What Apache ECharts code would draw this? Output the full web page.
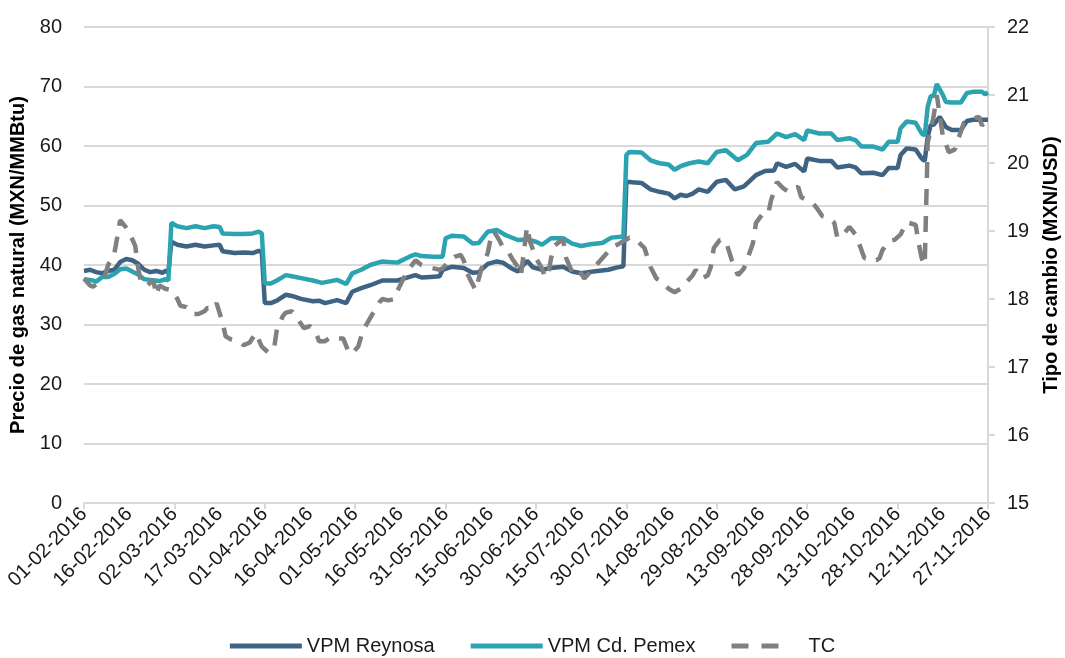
<!DOCTYPE html>
<html>
<head>
<meta charset="utf-8">
<script src="https://cdn.jsdelivr.net/npm/echarts@6/dist/echarts.min.js"></script>
<style>
html,body{margin:0;padding:0;background:#fff;}
#chart{width:1065px;height:658px;}
</style>
</head>
<body>
<div id="chart"></div>
<script>
// Daily categories from 01-02-2016 to 27-11-2016
const startDate = Date.UTC(2016, 1, 1);
const dayCount = 301;
const categories = [];
for (let i = 0; i < dayCount; i++) {
  const d = new Date(startDate + i * 86400000);
  const dd = String(d.getUTCDate()).padStart(2, '0');
  const mm = String(d.getUTCMonth() + 1).padStart(2, '0');
  categories.push(dd + '-' + mm + '-' + d.getUTCFullYear());
}

const leftTicks = { min: 0, max: 80, interval: 10 };
const rightTicks = { min: 15, max: 22, interval: 1 };

// [day offset from 01-02-2016, value]
const reynosa = [
  [0,39.0],[2,39.2],[4,38.8],[6,38.6],[8,39.0],[10,39.2],[12,40.5],[14,41.0],[16,40.8],[18,40.2],
  [20,39.2],[22,38.8],[24,39.0],[26,38.7],[27,39.0],[28,38.8],[29,43.9],[31,43.4],[34,43.1],[37,43.4],
  [40,43.1],[43,43.3],[45,43.4],[46,42.3],[50,42.0],[53,42.1],[56,42.0],[58,42.4],[59,42.2],[60,33.6],
  [62,33.6],[64,34.0],[67,35.0],[69,34.8],[72,34.3],[76,33.9],[78,34.0],[80,33.6],[84,34.1],[87,33.6],
  [89,35.5],[92,36.1],[95,36.6],[99,37.4],[104,37.4],[108,38.0],[110,38.3],[112,37.9],[115,38.0],[118,38.1],
  [119,39.2],[122,39.7],[126,39.5],[129,38.7],[131,38.8],[134,40.2],[137,40.6],[139,40.4],[142,39.4],[144,38.9],
  [147,40.7],[149,39.6],[152,39.2],[155,39.5],[159,39.7],[162,38.9],[165,38.6],[169,38.9],[174,39.2],[177,39.6],
  [179,39.8],[180,54.0],[182,53.9],[185,53.8],[188,52.7],[191,52.3],[194,52.0],[196,51.2],[198,51.8],[200,51.6],
  [202,52.0],[204,52.7],[207,52.3],[210,54.0],[213,54.3],[216,52.7],[219,53.2],[223,55.1],[226,55.8],[229,55.9],
  [230,57.1],[233,56.5],[236,57.0],[239,55.7],[240,57.9],[244,57.5],[248,57.5],[250,56.4],[254,56.7],[256,56.4],
  [258,55.4],[262,55.5],[265,55.1],[267,56.3],[270,56.3],[271,58.5],[273,59.6],[276,59.4],[278,57.9],[279,57.5],
  [280,61.6],[281,63.5],[282,63.6],[284,64.9],[286,63.2],[288,62.7],[291,62.7],[293,64.2],[295,64.4],[298,64.4],
  [300,64.4]
];

const pemex = [
  [0,37.6],[3,37.4],[4,37.2],[6,38.0],[8,38.0],[10,38.5],[12,39.3],[14,39.4],[16,38.9],[18,38.4],
  [20,37.6],[22,37.5],[25,37.3],[27,37.6],[28,37.4],[29,47.1],[31,46.5],[34,46.2],[37,46.5],[40,46.2],
  [43,46.5],[45,46.4],[46,45.3],[50,45.2],[53,45.2],[56,45.3],[58,45.6],[59,45.3],[60,36.9],[62,36.9],
  [64,37.4],[67,38.3],[69,38.1],[72,37.8],[76,37.4],[79,37.0],[84,37.5],[87,36.8],[89,38.6],[92,39.2],
  [95,40.0],[99,40.6],[104,40.4],[108,41.4],[110,41.8],[112,41.5],[116,41.4],[119,41.4],[120,44.5],[122,44.9],
  [126,44.8],[129,43.6],[131,43.7],[134,45.6],[137,45.9],[140,45.0],[144,44.2],[147,44.3],[150,43.9],[152,43.4],
  [155,44.5],[159,44.5],[162,43.6],[165,43.2],[168,43.5],[172,43.7],[175,44.6],[179,44.8],[180,58.5],[181,59.0],
  [185,58.9],[188,57.6],[191,57.1],[194,56.9],[196,56.0],[198,56.6],[201,57.1],[204,57.4],[207,57.1],[210,59.0],
  [213,59.3],[217,57.6],[220,58.5],[223,60.5],[227,60.7],[230,62.1],[233,61.5],[236,62.0],[239,61.0],[240,62.6],
  [244,62.1],[248,62.1],[250,61.0],[254,61.3],[256,61.0],[258,59.9],[262,59.9],[265,59.4],[267,60.7],[270,60.7],
  [271,63.0],[273,64.1],[276,63.9],[278,62.1],[279,61.8],[280,66.6],[281,68.4],[282,68.4],[283,70.4],[285,68.6],
  [286,67.4],[288,67.3],[291,67.3],[293,68.9],[295,69.1],[298,69.1],[299,68.7],[300,69.0]
];

const tc = [
  [0,18.30],[2,18.20],[3,18.18],[5,18.25],[7,18.35],[8,18.50],[10,18.65],[11,18.90],[12,19.16],[14,19.05],
  [15,18.98],[17,18.78],[18,18.45],[19,18.23],[21,18.20],[23,18.28],[24,18.06],[25,18.20],[27,18.15],[29,18.13],
  [31,18.00],[32,17.90],[34,17.88],[36,17.78],[38,17.78],[40,17.82],[41,17.87],[43,17.85],[44,17.94],[46,17.65],
  [47,17.45],[49,17.40],[51,17.38],[53,17.32],[55,17.36],[57,17.50],[59,17.30],[61,17.22],[63,17.25],[64,17.55],
  [66,17.75],[67,17.80],[69,17.82],[71,17.70],[73,17.57],[75,17.60],[77,17.50],[78,17.38],[80,17.38],[82,17.44],
  [84,17.42],[86,17.42],[88,17.20],[89,17.20],[91,17.30],[92,17.45],[93,17.57],[96,17.80],[98,17.95],[99,18.00],
  [101,17.98],[103,18.00],[104,18.12],[106,18.30],[108,18.45],[110,18.57],[112,18.50],[114,18.47],[116,18.45],[118,18.43],
  [119,18.45],[121,18.55],[123,18.62],[125,18.65],[126,18.57],[127,18.40],[128,18.30],[130,18.13],[131,18.30],[132,18.46],
  [134,18.68],[135,18.90],[136,19.00],[138,18.85],[139,18.76],[141,18.68],[142,18.60],[144,18.47],[145,18.35],[146,18.70],
  [147,19.06],[148,18.85],[150,18.60],[152,18.45],[153,18.32],[154,18.35],[155,18.60],[156,18.78],[158,18.85],[159,18.87],
  [160,18.60],[162,18.40],[164,18.45],[166,18.30],[167,18.35],[170,18.50],[172,18.60],[174,18.70],[175,18.76],[177,18.80],
  [179,18.85],[181,18.90],[183,18.88],[186,18.75],[188,18.47],[190,18.30],[192,18.25],[194,18.15],[196,18.10],[198,18.15],
  [200,18.25],[202,18.35],[203,18.43],[205,18.30],[207,18.35],[208,18.47],[209,18.75],[211,18.87],[213,18.85],[215,18.57],
  [217,18.35],[219,18.45],[220,18.57],[222,18.82],[223,19.12],[225,19.24],[227,19.24],[228,19.45],[230,19.72],[232,19.63],
  [234,19.57],[236,19.63],[237,19.65],[238,19.50],[242,19.40],[243,19.35],[245,19.22],[247,19.20],[249,19.12],[250,18.90],
  [252,18.95],[254,19.06],[256,18.95],[257,18.84],[259,18.60],[261,18.60],[263,18.57],[264,18.60],[265,18.72],[267,18.85],
  [269,18.87],[271,18.95],[273,19.13],[276,19.09],[277,18.82],[278,18.60],[279,18.50],[280,20.30],[281,20.50],[282,20.70],
  [283,21.00],[285,20.40],[287,20.16],[289,20.20],[290,20.34],[292,20.59],[293,20.62],[295,20.65],[297,20.68],[298,20.55],
  [300,20.65]
];

const FONT = "'Liberation Sans', Arial, sans-serif";
const solidIcon = 'path://M0,0h72v5h-72z';
const dashIcon = 'path://M0,0h17v5h-17zM30,0h17v5h-17zM71.9,0h0.1v0.1h-0.1z';

const chart = echarts.init(document.getElementById('chart'), null, { renderer: 'canvas' });
chart.setOption({
  animation: false,
  backgroundColor: '#ffffff',
  textStyle: { fontFamily: FONT },
  grid: { left: 84, right: 77, top: 27, bottom: 155, containLabel: false, outerBoundsMode: 'none' },
  legend: {
    bottom: -3,
    left: 'center',
    itemWidth: 72,
    itemHeight: 5,
    itemGap: 36,
    lineStyle: { opacity: 0 },
    textStyle: { fontSize: 20, color: '#1a1a1a', fontFamily: FONT },
    data: [
      { name: 'VPM Reynosa', icon: solidIcon },
      { name: 'VPM Cd. Pemex', icon: solidIcon },
      { name: 'TC', icon: dashIcon }
    ]
  },
  xAxis: {
    type: 'category',
    data: categories,
    boundaryGap: false,
    axisLine: { lineStyle: { color: '#d9d9d9', width: 2 } },
    axisTick: { show: true, interval: 29, length: 6, lineStyle: { color: '#d9d9d9', width: 2 } },
    axisLabel: { interval: 14, rotate: 45, fontSize: 20, color: '#1a1a1a', margin: 8, fontFamily: FONT },
    splitLine: { show: false }
  },
  yAxis: [
    {
      type: 'value',
      min: leftTicks.min, max: leftTicks.max, interval: leftTicks.interval,
      name: 'Precio de gas natural (MXN/MMBtu)',
      nameLocation: 'middle',
      nameGap: 46,
      nameTextStyle: { fontSize: 20, fontWeight: 'bold', color: '#000', fontFamily: FONT },
      axisLine: { show: false },
      axisTick: { show: false },
      axisLabel: { fontSize: 20, color: '#1a1a1a', margin: 22, fontFamily: FONT },
      splitLine: { lineStyle: { color: '#d9d9d9', width: 2 } }
    },
    {
      type: 'value',
      position: 'right',
      min: rightTicks.min, max: rightTicks.max, interval: rightTicks.interval,
      name: 'Tipo de cambio (MXN/USD)',
      nameLocation: 'middle',
      nameGap: 53,
      nameTextStyle: { fontSize: 20, fontWeight: 'bold', color: '#000', fontFamily: FONT },
      axisLine: { show: true, lineStyle: { color: '#d9d9d9', width: 2 } },
      axisTick: { show: true, length: 7, lineStyle: { color: '#d9d9d9', width: 2 } },
      axisLabel: { fontSize: 20, color: '#1a1a1a', margin: 19, fontFamily: FONT },
      splitLine: { show: false }
    }
  ],
  series: [
    {
      name: 'VPM Reynosa', type: 'line', data: reynosa, yAxisIndex: 0,
      symbol: 'none', showSymbol: false,
      lineStyle: { color: '#3e6383', width: 4.5 }, itemStyle: { color: '#3e6383' }
    },
    {
      name: 'VPM Cd. Pemex', type: 'line', data: pemex, yAxisIndex: 0,
      symbol: 'none', showSymbol: false,
      lineStyle: { color: '#2ca3b0', width: 4.5 }, itemStyle: { color: '#2ca3b0' }
    },
    {
      name: 'TC', type: 'line', data: tc, yAxisIndex: 1,
      symbol: 'none', showSymbol: false,
      lineStyle: { color: '#808080', width: 4.5, type: [16, 11] }, itemStyle: { color: '#808080' }
    }
  ]
});
</script>
</body>
</html>
